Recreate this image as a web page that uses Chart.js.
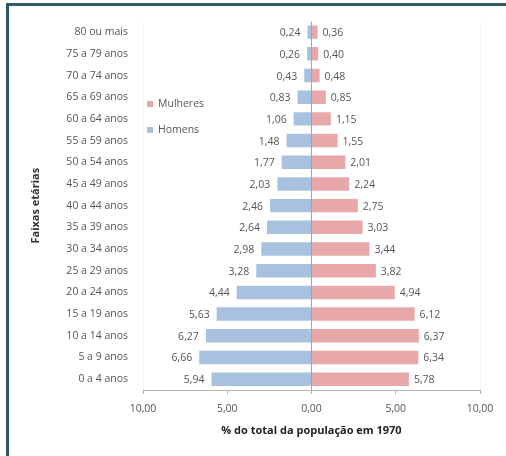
<!DOCTYPE html>
<html>
<head>
<meta charset="utf-8">
<script src="https://cdn.jsdelivr.net/npm/chart.js@4.4.1/dist/chart.umd.min.js"></script>
<style>
  html, body { margin: 0; padding: 0; background: #fff; }
  #wrap { position: relative; width: 506px; height: 456px; }
  #frame { position: absolute; left: 6px; top: 3px; right: 0; bottom: 0;
           border-left: 3px solid #2e5a62; border-top: 3px solid #2e5a62; }
  canvas { position: absolute; left: 0; top: 0; }
</style>
</head>
<body>
<div id="wrap">
  <div id="frame"></div>
  <canvas id="pyramid" width="506" height="456"></canvas>
</div>
<script>
// faixas etárias (de cima para baixo)
const faixas = [
  "80 ou mais", "75 a 79 anos", "70 a 74 anos", "65 a 69 anos", "60 a 64 anos",
  "55 a 59 anos", "50 a 54 anos", "45 a 49 anos", "40 a 44 anos", "35 a 39 anos",
  "30 a 34 anos", "25 a 29 anos", "20 a 24 anos", "15 a 19 anos", "10 a 14 anos",
  "5 a 9 anos", "0 a 4 anos"
];
// % do total da população em 1970
const homens = [0.24, 0.26, 0.43, 0.83, 1.06, 1.48, 1.77, 2.03, 2.46, 2.64, 2.98, 3.28, 4.44, 5.63, 6.27, 6.66, 5.94];
const mulheres = [0.36, 0.40, 0.48, 0.85, 1.15, 1.55, 2.01, 2.24, 2.75, 3.03, 3.44, 3.82, 4.94, 6.12, 6.37, 6.34, 5.78];
const xTicks = [-10, -5, 0, 5, 10];

const FONT = "'Open Sans', 'DejaVu Sans', sans-serif";
const AZUL = "#a8c1de";
const ROSA = "#e8a8a9";

const fmt = (v) => Math.abs(v).toFixed(2).replace(".", ",");

// rótulos de valor ao lado das barras
const valueLabels = {
  id: "valueLabels",
  afterDatasetsDraw(chart) {
    const ctx = chart.ctx;
    ctx.save();
    ctx.font = "10.5px " + FONT;
    ctx.fillStyle = "#555";
    ctx.textBaseline = "middle";
    chart.data.datasets.forEach((ds, i) => {
      const meta = chart.getDatasetMeta(i);
      meta.data.forEach((el, j) => {
        const v = ds.data[j];
        if (v < 0) {
          ctx.textAlign = "right";
          ctx.fillText(fmt(v), el.x - 7, el.y + 1);
        } else {
          ctx.textAlign = "left";
          ctx.fillText(fmt(v), el.x + 5, el.y + 1);
        }
      });
    });
    ctx.restore();
  },
};

// legenda desenhada à mão (Mulheres em cima)
const miniLegend = {
  id: "miniLegend",
  afterDraw(chart) {
    const ctx = chart.ctx;
    const items = [
      { text: "Mulheres", color: ROSA, y: 104 },
      { text: "Homens", color: AZUL, y: 130 },
    ];
    ctx.save();
    ctx.font = "10.5px " + FONT;
    ctx.textBaseline = "middle";
    ctx.textAlign = "left";
    items.forEach((it) => {
      ctx.fillStyle = it.color;
      ctx.fillRect(147, it.y - 3, 6, 6);
      ctx.fillStyle = "#555";
      ctx.fillText(it.text, 158, it.y);
    });
    ctx.restore();
  },
};

const ctx = document.getElementById("pyramid").getContext("2d");
new Chart(ctx, {
  type: "bar",
  data: {
    labels: faixas,
    datasets: [
      {
        label: "Homens",
        data: homens.map((v) => -v),
        backgroundColor: AZUL,
        barPercentage: 0.62,
        categoryPercentage: 1,
      },
      {
        label: "Mulheres",
        data: mulheres,
        backgroundColor: ROSA,
        barPercentage: 0.62,
        categoryPercentage: 1,
      },
    ],
  },
  options: {
    indexAxis: "y",
    responsive: false,
    animation: false,
    layout: { padding: { top: 21, right: 26, left: 0, bottom: 0 } },
    plugins: {
      legend: { display: false },
      tooltip: { enabled: false },
    },
    scales: {
      x: {
        stacked: true,
        min: -10,
        max: 10,
        afterBuildTicks: (scale) => {
          scale.ticks = xTicks.map((v) => ({ value: v }));
        },
        afterFit: (scale) => {
          scale.height = 66;
        },
        ticks: {
          font: { family: FONT, size: 10.5 },
          color: "#555",
          padding: 9,
          maxRotation: 0,
          callback: (v) => fmt(v),
        },
        grid: {
          color: (c) => {
            const v = c.tick ? c.tick.value : null;
            if (v === 0) return "#a5a5a5";
            if (v === 10 || v === -10) return "#f3f3f3";
            return "rgba(0,0,0,0)";
          },
          tickColor: "#b0b0b0",
          tickLength: 4,
        },
        border: { display: true, color: "#b5b5b5" },
        title: {
          display: true,
          text: "% do total da população em 1970",
          font: { family: FONT, size: 11, weight: "bold" },
          color: "#222",
          padding: { top: 0, bottom: 19 },
        },
      },
      y: {
        stacked: true,
        afterFit: (scale) => {
          scale.width = 143;
        },
        ticks: {
          font: { family: FONT, size: 10.5 },
          color: "#555",
          padding: 15,
        },
        grid: { display: false, drawTicks: false },
        border: { display: false },
        title: {
          display: true,
          text: "Faixas etárias",
          font: { family: FONT, size: 11, weight: "bold" },
          color: "#333",
          padding: { top: 29, bottom: 0 },
        },
      },
    },
  },
  plugins: [valueLabels, miniLegend],
});
</script>
</body>
</html>
